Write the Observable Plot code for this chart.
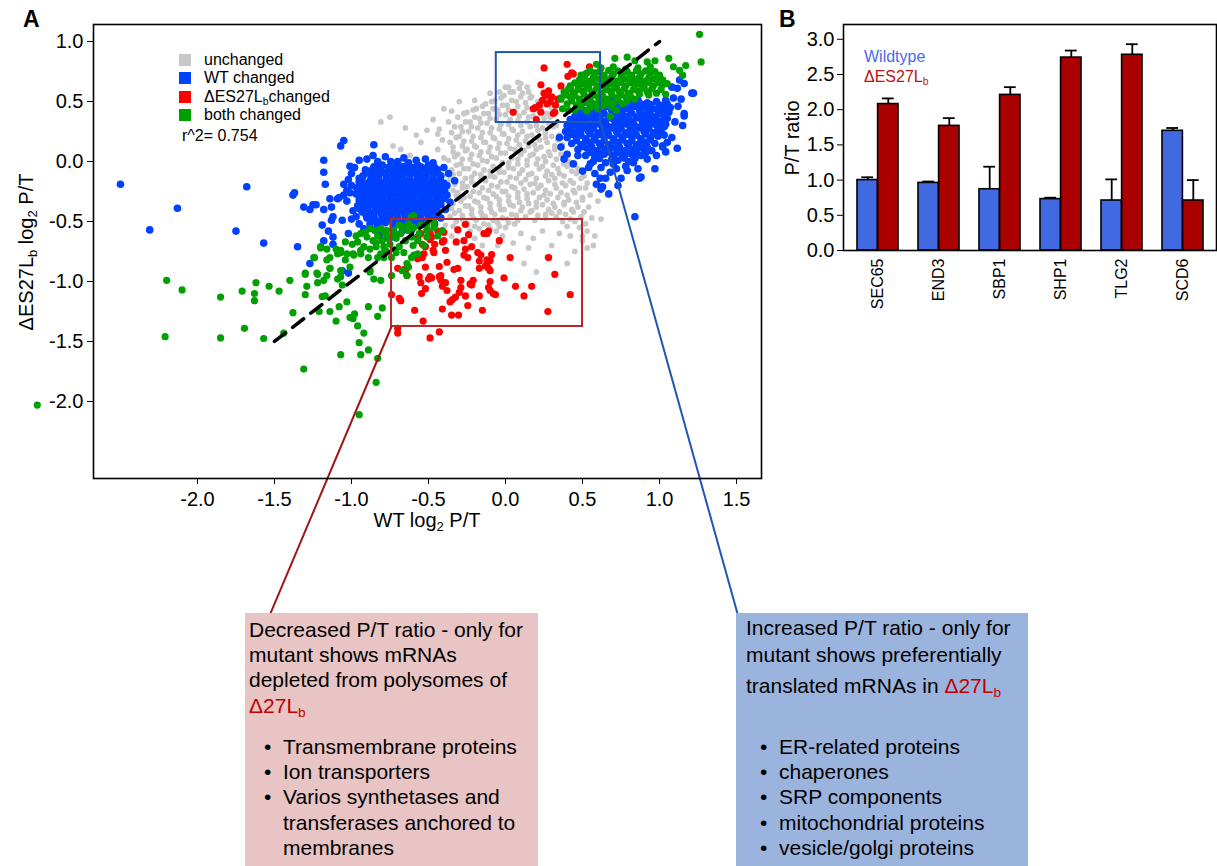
<!DOCTYPE html>
<html>
<head>
<meta charset="utf-8">
<script src="https://cdn.jsdelivr.net/npm/d3@7"></script>
<script src="https://cdn.jsdelivr.net/npm/@observablehq/plot@0.6"></script>
<style>
  html, body { margin: 0; padding: 0; background: #fff; }
  body { width: 1217px; height: 866px; position: relative; overflow: hidden;
         font-family: "Liberation Sans", Arial, sans-serif; color: #000; }
  .abs { position: absolute; white-space: nowrap; }
  .sub { font-size: 0.65em; position: relative; top: 0.3em; }
  .box { position: absolute; top: 613px; height: 253px; font-size: 21px; line-height: 25.5px; }
  .box .ln { position: absolute; white-space: nowrap; }
  .mut { color: #c00000; }
</style>
</head>
<body>
<div id="A" class="abs" style="left:0;top:0;width:770px;"></div>
<div id="B" class="abs" style="left:770px;top:0;width:447px;"></div>
<script>
// ---------------- Panel A data (WT log2 P/T, ΔES27Lb log2 P/T) ----------------
const grayPts = [
 [-0.81,0.33],[-0.73,0.13],[-0.55,0.16],[-0.51,0.26],[-0.44,0.23],[-0.75,0.37],[-0.40,0.44],[-0.62,0.05],[-0.58,0.22],[-0.47,0.35],
 [-0.35,0.42],[-0.30,0.50],[-0.20,0.51],[-0.10,0.57],[0.00,0.62],[0.08,0.66],[0.14,0.62],[-0.65,0.28],[-0.68,0.10],
 [-0.43,0.27],[-0.41,0.18],[-0.44,0.10],[-0.40,0.03],[-0.42,-0.47],[-0.39,-0.53],
 [-0.37,0.33],[-0.35,0.24],[-0.36,0.16],[-0.34,0.08],[-0.37,0.01],[-0.35,-0.07],[-0.36,-0.15],[-0.34,-0.24],[-0.37,-0.31],[-0.35,-0.39],[-0.36,-0.46],[-0.34,-0.54],
 [-0.31,0.37],[-0.29,0.29],[-0.30,0.21],[-0.28,0.13],[-0.31,0.06],[-0.29,-0.02],[-0.30,-0.10],[-0.28,-0.18],[-0.31,-0.26],[-0.29,-0.33],[-0.30,-0.41],[-0.28,-0.48],[-0.31,-0.56],
 [-0.25,0.41],[-0.23,0.33],[-0.24,0.25],[-0.22,0.17],[-0.25,0.10],[-0.23,0.02],[-0.24,-0.06],[-0.22,-0.13],[-0.25,-0.21],[-0.23,-0.29],[-0.24,-0.37],[-0.22,-0.44],[-0.25,-0.51],[-0.23,-0.58],
 [-0.19,0.44],[-0.17,0.36],[-0.18,0.28],[-0.16,0.20],[-0.19,0.12],[-0.17,0.05],[-0.18,-0.03],[-0.16,-0.11],[-0.19,-0.19],[-0.17,-0.26],[-0.18,-0.34],[-0.16,-0.42],[-0.19,-0.49],[-0.17,-0.56],
 [-0.13,0.48],[-0.11,0.40],[-0.12,0.32],[-0.10,0.24],[-0.13,0.16],[-0.11,0.08],[-0.12,0.00],[-0.10,-0.08],[-0.13,-0.16],[-0.11,-0.24],[-0.12,-0.31],[-0.10,-0.39],[-0.13,-0.46],[-0.11,-0.53],
 [-0.07,0.51],[-0.05,0.43],[-0.06,0.35],[-0.04,0.27],[-0.07,0.19],[-0.05,0.11],[-0.06,0.03],[-0.04,-0.05],[-0.07,-0.13],[-0.05,-0.21],[-0.06,-0.29],[-0.04,-0.36],[-0.07,-0.44],[-0.05,-0.51],[-0.06,-0.58],
 [-0.01,0.55],[0.01,0.47],[0.00,0.39],[0.02,0.31],[-0.01,0.23],[0.01,0.15],[0.00,0.07],[0.02,-0.01],[-0.01,-0.09],[0.01,-0.17],[0.00,-0.25],[0.02,-0.33],[-0.01,-0.40],[0.01,-0.48],[0.00,-0.55],
 [0.05,0.58],[0.07,0.50],[0.06,0.42],[0.08,0.34],[0.05,0.26],[0.07,0.18],[0.06,0.10],[0.08,0.02],[0.05,-0.06],[0.07,-0.14],[0.06,-0.22],[0.08,-0.30],[0.05,-0.37],[0.07,-0.45],[0.06,-0.52],
 [0.11,0.57],[0.13,0.49],[0.12,0.41],[0.14,0.33],[0.11,0.25],[0.13,0.17],[0.12,0.09],[0.14,0.01],[0.11,-0.07],[0.13,-0.15],[0.12,-0.23],[0.14,-0.31],[0.11,-0.38],[0.13,-0.46],
 [0.17,0.54],[0.19,0.46],[0.18,0.38],[0.20,0.30],[0.17,0.22],[0.19,0.14],[0.18,0.06],[0.20,-0.02],[0.17,-0.10],[0.19,-0.18],[0.18,-0.26],[0.20,-0.34],[0.17,-0.41],[0.19,-0.49],
 [0.23,0.44],[0.25,0.36],[0.24,0.28],[0.26,0.20],[0.23,0.12],[0.25,0.04],[0.24,-0.04],[0.26,-0.12],[0.23,-0.20],[0.25,-0.28],[0.24,-0.36],[0.26,-0.44],
 [0.29,0.37],[0.31,0.29],[0.30,0.21],[0.32,0.13],[0.29,0.05],[0.31,-0.03],[0.30,-0.11],[0.32,-0.19],[0.29,-0.27],[0.31,-0.35],[0.30,-0.43],
 [0.35,0.22],[0.37,0.14],[0.36,0.06],[0.38,-0.02],[0.35,-0.10],[0.37,-0.18],[0.36,-0.26],[0.38,-0.34],[0.35,-0.42],[0.37,-0.50],
 [0.41,0.00],[0.43,-0.08],[0.42,-0.16],[0.44,-0.24],[0.41,-0.32],[0.43,-0.40],[0.42,-0.48],
 [0.47,-0.06],[0.49,-0.14],[0.48,-0.22],[0.50,-0.30],[0.47,-0.38],[0.49,-0.46],[0.48,-0.55],
 [0.53,-0.18],[0.55,-0.28],[0.54,-0.38],[0.56,-0.47],[0.53,-0.58],[0.57,-0.70],
 [0.60,-0.33],[0.62,-0.48],[0.58,-0.62],[0.50,-0.66],[0.42,-0.62],[0.35,-0.60],[0.27,-0.80],[0.20,-0.92],[0.30,-0.70],[0.15,-0.72],
 [0.05,-0.68],[-0.05,-0.70],[0.10,-0.60],[0.45,-0.75],[0.62,-0.22],[0.58,-0.10],[0.24,-0.58],[0.18,-0.64],[-0.02,-0.62],[-0.20,-0.64],
 [-0.35,-0.62],[-0.62,-0.58],[-0.55,-0.63],[-0.48,-0.58],[0.53,-0.72],[0.40,-0.85],[0.12,-0.85],[-0.15,-0.70],
 [0.24,0.52],[0.30,0.45],[0.02,0.62],[0.10,0.65],[-0.04,0.58],
 [-0.33,0.29],[-0.32,0.20],[-0.34,0.12],[-0.33,0.04],[-0.32,-0.03],[-0.34,-0.11],[-0.33,-0.19],[-0.32,-0.28],[-0.34,-0.35],[-0.33,-0.43],[-0.32,-0.50],
 [-0.27,0.40],[-0.26,0.33],[-0.28,0.25],[-0.27,0.17],[-0.26,0.09],[-0.28,0.02],[-0.27,-0.06],[-0.26,-0.14],[-0.28,-0.22],[-0.27,-0.30],[-0.26,-0.37],[-0.28,-0.45],[-0.27,-0.52],
 [-0.21,0.43],[-0.20,0.37],[-0.22,0.29],[-0.21,0.21],[-0.20,0.13],[-0.22,0.06],[-0.21,-0.02],[-0.20,-0.10],[-0.22,-0.17],[-0.21,-0.25],[-0.20,-0.33],[-0.22,-0.40],[-0.21,-0.47],[-0.20,-0.54],
 [-0.15,0.46],[-0.14,0.40],[-0.16,0.32],[-0.15,0.24],[-0.14,0.16],[-0.16,0.08],[-0.15,0.01],[-0.14,-0.07],[-0.16,-0.15],[-0.15,-0.22],[-0.14,-0.30],[-0.16,-0.38],[-0.15,-0.45],[-0.14,-0.52],
 [-0.09,0.50],[-0.08,0.44],[-0.10,0.36],[-0.09,0.28],[-0.08,0.20],[-0.10,0.12],[-0.09,0.04],[-0.08,-0.04],[-0.10,-0.12],[-0.09,-0.20],[-0.08,-0.27],[-0.10,-0.35],[-0.09,-0.42],[-0.08,-0.49],[-0.10,-0.56],
 [-0.03,0.53],[-0.02,0.47],[-0.04,0.39],[-0.03,0.31],[-0.02,0.23],[-0.04,0.15],[-0.03,0.07],[-0.02,-0.01],[-0.04,-0.09],[-0.03,-0.17],[-0.02,-0.25],[-0.04,-0.32],[-0.03,-0.40],[-0.02,-0.47],[-0.04,-0.54],
 [0.03,0.58],[0.04,0.51],[0.02,0.43],[0.03,0.35],[0.04,0.27],[0.02,0.19],[0.03,0.11],[0.04,0.03],[0.02,-0.05],[0.03,-0.13],[0.04,-0.21],[0.02,-0.29],[0.03,-0.36],[0.04,-0.44],[0.02,-0.51],
 [0.09,0.61],[0.10,0.54],[0.08,0.46],[0.09,0.38],[0.10,0.30],[0.08,0.22],[0.09,0.14],[0.10,0.06],[0.08,-0.02],[0.09,-0.10],[0.10,-0.18],[0.08,-0.26],[0.09,-0.34],[0.10,-0.41],[0.08,-0.49],
 [0.15,0.58],[0.16,0.53],[0.14,0.45],[0.15,0.37],[0.16,0.29],[0.14,0.21],[0.15,0.13],[0.16,0.05],[0.14,-0.03],[0.15,-0.11],[0.16,-0.19],[0.14,-0.27],[0.15,-0.35],[0.16,-0.42],
 [0.21,0.50],[0.22,0.42],[0.20,0.34],[0.21,0.26],[0.22,0.18],[0.20,0.10],[0.21,0.02],[0.22,-0.06],[0.20,-0.14],[0.21,-0.22],[0.22,-0.30],[0.20,-0.38],[0.21,-0.45],
 [0.27,0.40],[0.28,0.32],[0.26,0.24],[0.27,0.16],[0.28,0.08],[0.26,0.00],[0.27,-0.08],[0.28,-0.16],[0.26,-0.24],[0.27,-0.32],[0.28,-0.40],[0.26,-0.47],
 [0.33,0.30],[0.34,0.18],[0.32,0.10],[0.33,0.02],[0.34,-0.06],[0.32,-0.14],[0.33,-0.22],[0.34,-0.30],[0.32,-0.38],[0.33,-0.46],
 [0.39,0.04],[0.40,-0.04],[0.38,-0.12],[0.39,-0.20],[0.40,-0.28],[0.38,-0.36],[0.39,-0.44],[0.40,-0.54],
 [0.45,-0.02],[0.46,-0.10],[0.44,-0.18],[0.45,-0.26],[0.46,-0.34],[0.44,-0.42],[0.45,-0.50],
 [0.51,-0.12],[0.52,-0.22],[0.50,-0.32],[0.51,-0.42],[0.52,-0.52],[0.50,-0.62]
];
const bluePts = [
 [-2.50,-0.19],[-2.13,-0.39],[-2.31,-0.57],[-1.68,-0.21],[-1.75,-0.58],[-1.57,-0.68],[-1.38,-0.28],[-1.37,-0.26],[-1.31,-0.38],[-1.27,-0.40],
 [-1.23,-0.36],[-1.18,0.01],[-1.18,-0.09],[-1.17,-0.19],[-1.14,-0.31],[-1.18,-0.40],[-1.07,0.13],[-1.05,0.175],[-0.95,0.01],[-1.01,-0.04],
 [-0.855,0.14],[-1.08,-0.30],[-1.03,-0.24],[-1.12,-0.46],[-1.19,-0.53],[-1.15,-0.58],[-1.12,-0.63],[-1.02,-0.60],[-1.35,-0.71],[-1.18,-0.66],
 [-1.27,-0.85],[-1.12,-0.69],[-1.02,-0.93],[-1.06,-0.91],[-0.83,0.00],[-0.70,0.00],[-0.63,-0.02],[-0.91,-0.07],[-0.95,-0.14],[-1.05,-0.19],
 [-1.25,-0.36],[-1.13,-0.38],[-1.09,-0.31],[-1.05,-0.28],[-1.01,-0.26],[-0.33,-0.16],[-1.13,-0.49],[-1.06,-0.49],[-1.00,-0.48],
 [-0.90,0.02],[-0.86,0.05],[-0.78,0.04],[-0.66,0.03],[-0.58,0.01],[-0.52,0.02],[-0.47,-0.01],[-0.98,-0.05],[-1.00,-0.10],
 [-1.02,-0.15],[-1.00,-0.20],[-1.03,-0.33],[-0.99,-0.41],[-0.97,-0.46],[-0.95,-0.52],[-0.92,-0.56],
 [-0.40,-0.05],[-0.37,-0.10],[-0.38,-0.20],[-0.36,-0.34],[-0.39,-0.40],[-0.42,-0.47],[-0.46,-0.52],
 [-0.80,-0.03],[-0.745,0.0],[-0.69,-0.04],[-0.63,-0.01],[-0.57,-0.03],[-0.51,-0.05],
 [-0.88,-0.08],[-0.83,-0.06],[-0.78,-0.09],[-0.735,-0.06],[-0.68,-0.08],[-0.63,-0.07],[-0.585,-0.09],[-0.53,-0.06],[-0.48,-0.08],[-0.44,-0.07],
 [-0.925,-0.12],[-0.87,-0.13],[-0.82,-0.11],[-0.77,-0.13],[-0.72,-0.12],[-0.67,-0.14],[-0.62,-0.11],[-0.57,-0.13],[-0.52,-0.12],[-0.47,-0.14],[-0.42,-0.12],
 [-0.95,-0.17],[-0.90,-0.18],[-0.85,-0.16],[-0.80,-0.18],[-0.75,-0.17],[-0.70,-0.16],[-0.65,-0.18],[-0.60,-0.17],[-0.55,-0.16],[-0.50,-0.18],[-0.45,-0.17],[-0.40,-0.18],
 [-0.965,-0.22],[-0.91,-0.23],[-0.86,-0.21],[-0.81,-0.23],[-0.76,-0.22],[-0.71,-0.21],[-0.66,-0.23],[-0.61,-0.22],[-0.56,-0.21],[-0.51,-0.23],[-0.46,-0.22],[-0.41,-0.23],
 [-0.97,-0.27],[-0.92,-0.28],[-0.87,-0.26],[-0.82,-0.28],[-0.77,-0.27],[-0.72,-0.26],[-0.67,-0.28],[-0.62,-0.27],[-0.57,-0.26],[-0.52,-0.28],[-0.47,-0.27],[-0.42,-0.26],[-0.38,-0.28],
 [-0.95,-0.32],[-0.90,-0.33],[-0.85,-0.31],[-0.80,-0.33],[-0.75,-0.32],[-0.70,-0.31],[-0.65,-0.33],[-0.60,-0.32],[-0.55,-0.31],[-0.50,-0.33],[-0.45,-0.32],[-0.40,-0.31],
 [-0.96,-0.37],[-0.91,-0.38],[-0.86,-0.36],[-0.81,-0.38],[-0.76,-0.37],[-0.71,-0.36],[-0.66,-0.38],[-0.61,-0.37],[-0.56,-0.36],[-0.51,-0.38],[-0.46,-0.37],[-0.42,-0.36],
 [-0.93,-0.42],[-0.88,-0.43],[-0.83,-0.41],[-0.78,-0.43],[-0.73,-0.42],[-0.68,-0.41],[-0.63,-0.43],[-0.58,-0.42],[-0.53,-0.41],[-0.48,-0.43],[-0.44,-0.42],
 [-0.90,-0.47],[-0.85,-0.48],[-0.80,-0.46],[-0.75,-0.48],[-0.70,-0.47],[-0.65,-0.46],[-0.60,-0.48],[-0.55,-0.47],[-0.50,-0.46],
 [-0.88,-0.52],[-0.83,-0.53],[-0.78,-0.51],[-0.73,-0.53],[-0.68,-0.52],[-0.63,-0.51],[-0.58,-0.53],[-0.53,-0.52],
 [-0.85,-0.57],[-0.79,-0.58],[-0.73,-0.56],[-0.67,-0.58],[-0.61,-0.57],[-0.82,-0.62],[-0.74,-0.63],
 [-0.855,-0.045],[-0.81,-0.04],[-0.76,-0.05],[-0.71,-0.045],[-0.655,-0.04],[-0.60,-0.05],[-0.55,-0.045],[-0.50,-0.03],[-0.46,-0.05],
 [-0.90,-0.095],[-0.85,-0.10],[-0.80,-0.09],[-0.75,-0.095],[-0.70,-0.10],[-0.65,-0.09],[-0.60,-0.095],[-0.55,-0.10],[-0.50,-0.09],[-0.45,-0.095],
 [-0.935,-0.145],[-0.875,-0.15],[-0.825,-0.14],[-0.775,-0.145],[-0.725,-0.15],[-0.675,-0.14],[-0.625,-0.145],[-0.575,-0.15],[-0.525,-0.14],[-0.475,-0.145],[-0.425,-0.15],
 [-0.93,-0.195],[-0.875,-0.20],[-0.825,-0.19],[-0.775,-0.195],[-0.725,-0.20],[-0.675,-0.19],[-0.625,-0.195],[-0.575,-0.20],[-0.525,-0.19],[-0.475,-0.195],[-0.425,-0.20],
 [-0.94,-0.245],[-0.885,-0.25],[-0.835,-0.24],[-0.785,-0.245],[-0.735,-0.25],[-0.685,-0.24],[-0.635,-0.245],[-0.585,-0.25],[-0.535,-0.24],[-0.485,-0.245],[-0.435,-0.25],[-0.395,-0.24],
 [-0.945,-0.295],[-0.895,-0.30],[-0.845,-0.29],[-0.795,-0.295],[-0.745,-0.30],[-0.695,-0.29],[-0.645,-0.295],[-0.595,-0.30],[-0.545,-0.29],[-0.495,-0.295],[-0.445,-0.30],[-0.40,-0.29],
 [-0.925,-0.345],[-0.875,-0.35],[-0.825,-0.34],[-0.775,-0.345],[-0.725,-0.35],[-0.675,-0.34],[-0.625,-0.345],[-0.575,-0.35],[-0.525,-0.34],[-0.475,-0.345],[-0.425,-0.35],
 [-0.945,-0.395],[-0.895,-0.40],[-0.845,-0.39],[-0.795,-0.395],[-0.745,-0.40],[-0.695,-0.39],[-0.645,-0.395],[-0.595,-0.40],[-0.545,-0.39],[-0.495,-0.395],[-0.45,-0.40],
 [-0.905,-0.445],[-0.855,-0.45],[-0.805,-0.44],[-0.755,-0.445],[-0.705,-0.45],[-0.655,-0.44],[-0.605,-0.445],[-0.555,-0.45],[-0.505,-0.44],[-0.46,-0.445],
 [-0.865,-0.495],[-0.815,-0.50],[-0.765,-0.49],[-0.715,-0.495],[-0.665,-0.50],[-0.615,-0.49],[-0.565,-0.495],[-0.515,-0.50],
 [1.22,0.57],[1.16,0.40],[1.15,0.30],[1.14,0.52],[1.115,0.11],[1.02,0.13],[0.97,-0.06],[0.88,-0.13],[0.75,-0.14],[0.65,-0.14],
 [0.63,-0.21],[0.54,-0.05],[0.47,0.05],[0.40,0.06],[0.35,0.20],[1.05,0.16],[1.06,0.43],[1.08,0.62],[1.115,0.61],[0.83,-0.01],
 [0.79,-0.075],[0.70,-0.02],[0.55,-0.02],[0.84,-0.46],[0.87,-0.14],[0.62,-0.23],[0.615,-0.14],[1.21,0.57],[1.16,0.38],[1.04,0.31],
 [1.03,0.22],[1.02,0.12],[1.16,0.65],[1.13,0.68],
 [0.36,0.12],[0.38,0.02],[0.44,-0.02],[0.50,-0.08],[0.58,-0.10],[0.68,-0.09],[0.78,-0.04],[0.86,-0.06],[0.92,0.02],[0.98,0.05],
 [1.04,0.08],[1.08,0.20],[1.10,0.33],[1.12,0.46],[1.09,0.53],[0.67,-0.27],[0.73,-0.20],[0.59,-0.19],
 [0.62,0.50],[0.68,0.51],[0.74,0.49],[0.80,0.50],[0.86,0.51],[0.92,0.49],[0.98,0.50],[1.04,0.51],
 [0.55,0.45],[0.605,0.44],[0.66,0.46],[0.72,0.45],[0.78,0.44],[0.84,0.46],[0.90,0.45],[0.96,0.44],[1.02,0.46],[1.07,0.45],
 [0.48,0.40],[0.53,0.41],[0.585,0.39],[0.64,0.40],[0.70,0.41],[0.76,0.39],[0.82,0.40],[0.88,0.41],[0.94,0.39],[1.00,0.40],[1.06,0.41],
 [0.42,0.35],[0.47,0.34],[0.52,0.36],[0.575,0.35],[0.63,0.34],[0.69,0.36],[0.75,0.35],[0.81,0.34],[0.87,0.36],[0.93,0.35],[0.99,0.34],[1.05,0.36],
 [0.40,0.30],[0.45,0.31],[0.50,0.29],[0.555,0.30],[0.61,0.31],[0.67,0.29],[0.73,0.30],[0.79,0.31],[0.85,0.29],[0.91,0.30],[0.97,0.31],[1.03,0.29],
 [0.39,0.25],[0.44,0.24],[0.49,0.26],[0.54,0.25],[0.60,0.24],[0.66,0.26],[0.72,0.25],[0.78,0.24],[0.84,0.26],[0.90,0.25],[0.96,0.24],[1.01,0.26],
 [0.40,0.20],[0.46,0.21],[0.52,0.19],[0.58,0.20],[0.64,0.21],[0.70,0.19],[0.76,0.20],[0.82,0.21],[0.88,0.19],[0.94,0.20],[0.99,0.21],
 [0.43,0.15],[0.49,0.14],[0.55,0.16],[0.61,0.15],[0.67,0.14],[0.73,0.16],[0.79,0.15],[0.85,0.14],[0.91,0.16],[0.97,0.15],
 [0.47,0.10],[0.53,0.11],[0.59,0.09],[0.65,0.10],[0.71,0.11],[0.77,0.09],[0.83,0.10],[0.89,0.11],[0.95,0.09],
 [0.52,0.05],[0.58,0.04],[0.64,0.06],[0.70,0.05],[0.76,0.04],[0.82,0.06],[0.88,0.05],
 [0.57,0.00],[0.65,-0.01],[0.73,0.01],[0.80,0.00],[0.62,-0.05],[0.72,-0.06],
 [0.585,0.475],[0.64,0.47],[0.70,0.48],[0.76,0.475],[0.82,0.47],[0.88,0.48],[0.94,0.475],[1.00,0.47],[1.05,0.48],
 [0.51,0.425],[0.57,0.42],[0.63,0.43],[0.69,0.425],[0.75,0.42],[0.81,0.43],[0.87,0.425],[0.93,0.42],[0.99,0.43],[1.04,0.425],
 [0.45,0.375],[0.50,0.37],[0.55,0.38],[0.61,0.375],[0.67,0.37],[0.73,0.38],[0.79,0.375],[0.85,0.37],[0.91,0.38],[0.97,0.375],[1.03,0.37],
 [0.43,0.325],[0.48,0.32],[0.53,0.33],[0.59,0.325],[0.65,0.32],[0.71,0.33],[0.77,0.325],[0.83,0.32],[0.89,0.33],[0.95,0.325],[1.01,0.32],
 [0.42,0.275],[0.47,0.27],[0.52,0.28],[0.57,0.275],[0.63,0.27],[0.69,0.28],[0.75,0.275],[0.81,0.27],[0.87,0.28],[0.93,0.275],[0.99,0.27],
 [0.43,0.225],[0.49,0.22],[0.55,0.23],[0.61,0.225],[0.67,0.22],[0.73,0.23],[0.79,0.225],[0.85,0.22],[0.91,0.23],[0.97,0.225],
 [0.46,0.175],[0.52,0.17],[0.58,0.18],[0.64,0.175],[0.70,0.17],[0.76,0.18],[0.82,0.175],[0.88,0.17],[0.94,0.18],
 [0.50,0.125],[0.56,0.12],[0.62,0.13],[0.68,0.125],[0.74,0.12],[0.80,0.13],[0.86,0.125],[0.92,0.12],
 [0.55,0.075],[0.61,0.07],[0.67,0.08],[0.73,0.075],[0.79,0.07],[0.85,0.08],[0.91,0.075],
 [0.61,0.025],[0.69,0.02],[0.77,0.03],[0.84,0.025]
];
const redPts = [
 [0.25,0.78],[0.40,0.81],[0.545,0.79],[0.43,0.74],[0.405,0.71],[0.23,0.64],[0.36,0.63],[0.28,0.59],[0.26,0.55],[0.30,0.54],
 [0.34,0.52],[0.24,0.51],[0.27,0.48],[0.22,0.47],[0.18,0.44],[0.325,0.47],[0.23,0.41],[0.32,0.41],[0.05,0.41],[0.20,0.35],
 [0.39,0.56],[0.42,0.61],[0.44,0.73],[0.195,0.45],[0.31,0.40],[0.29,0.50],[0.25,0.57],
 [-0.26,-0.525],[-0.31,-0.57],[-0.24,-0.61],[-0.14,-0.60],[-0.11,-0.58],[-0.04,-0.66],[-0.41,-0.67],[-0.32,-0.67],[-0.27,-0.66],[-0.22,-0.71],
 [-0.26,-0.73],[-0.18,-0.76],[-0.27,-0.78],[-0.245,-0.80],[-0.16,-0.78],[-0.09,-0.775],[0.03,-0.80],[0.28,-0.80],[-0.46,-0.69],[-0.465,-0.76],
 [-0.53,-0.77],[-0.54,-0.69],[-0.57,-0.63],[-0.44,-0.58],[-0.49,-0.60],[-0.51,-0.57],[-0.55,-0.60],[-0.12,-0.85],[-0.17,-0.83],[-0.12,-0.82],
 [-0.10,-0.91],[-0.11,-0.89],[-0.17,-0.89],[-0.38,-0.84],[-0.31,-0.89],[-0.335,-0.90],[-0.52,-0.88],[-0.56,-0.96],[-0.55,-1.01],[-0.52,-1.06],
 [-0.545,-1.10],[-0.50,-0.98],[-0.48,-0.97],[-0.43,-0.96],[-0.42,-0.99],[-0.39,-1.01],[-0.38,-1.075],[-0.41,-1.04],[-0.29,-0.99],[-0.29,-1.05],
 [-0.30,-1.09],[-0.325,-1.13],[-0.36,-1.17],[-0.345,-1.15],[-0.26,-1.12],[-0.22,-1.03],[-0.21,-0.99],[-0.23,-1.02],[-0.17,-1.12],[-0.11,-1.05],
 [-0.10,-1.00],[-0.08,-1.10],[-0.065,-1.11],[-0.10,-1.075],[-0.01,-0.97],[0.065,-1.04],[0.17,-1.04],[0.12,-1.12],[0.32,-0.94],[0.42,-1.11],
 [0.275,-1.25],[-0.59,-1.24],[-0.41,-1.23],[-0.245,-1.20],[-0.35,-1.28],[-0.305,-1.28],[-0.15,-1.24],[-0.535,-1.33],[-0.70,-1.39],[-0.70,-1.43],
 [-0.43,-1.42],[-0.49,-1.47],[-0.69,-1.14],[-0.68,-1.16],[-0.70,-0.89],[-0.66,-0.90],[-0.74,-1.11],[-0.47,-0.74],[-0.40,-0.59],[-0.12,-0.60],
 [-0.49,-0.65],[-0.52,-0.71],[-0.13,-0.87],[-0.10,-0.825],[-0.49,-0.96],[-0.42,-0.95],[-0.48,-0.63],[-0.54,-0.80],[-0.57,-0.81],
 [-0.65,-0.91],[-0.64,-0.95],[-0.40,-0.66],[-0.39,-0.74],[-0.43,-0.875]
];
const greenPts = [
 [1.26,1.06],[1.27,0.83],[0.79,0.87],[0.71,0.86],[1.06,0.86],[1.17,0.80],[1.13,0.76],[1.09,0.79],[1.15,0.72],[0.92,0.83],
 [0.97,0.84],[0.59,0.81],[0.53,0.74],[0.49,0.72],[0.68,0.375],[0.72,0.425],[1.04,0.56],[1.00,0.70],[1.05,0.65],[0.41,0.425],
 [0.37,0.44],[0.36,0.52],[0.465,0.65],[0.44,0.56],[0.84,0.84],
 [0.62,0.78],[0.70,0.79],[0.78,0.77],[0.86,0.78],[0.94,0.79],
 [0.52,0.73],[0.58,0.74],[0.64,0.72],[0.70,0.73],[0.76,0.74],[0.82,0.72],[0.88,0.73],[0.94,0.74],[1.00,0.72],
 [0.48,0.68],[0.54,0.67],[0.60,0.69],[0.66,0.68],[0.72,0.67],[0.78,0.69],[0.84,0.68],[0.90,0.67],[0.96,0.69],[1.02,0.68],
 [0.42,0.63],[0.48,0.64],[0.54,0.62],[0.60,0.63],[0.66,0.64],[0.72,0.62],[0.78,0.63],[0.84,0.64],[0.90,0.62],[0.96,0.63],[1.02,0.64],
 [0.38,0.58],[0.44,0.57],[0.50,0.59],[0.56,0.58],[0.62,0.57],[0.68,0.59],[0.74,0.58],[0.80,0.57],[0.86,0.59],[0.92,0.58],[0.98,0.57],
 [0.36,0.53],[0.42,0.54],[0.48,0.52],[0.54,0.53],[0.60,0.54],[0.66,0.52],[0.72,0.53],[0.78,0.54],[0.84,0.52],
 [0.40,0.48],[0.46,0.47],[0.52,0.49],[0.58,0.48],[0.64,0.47],[0.70,0.49],[0.76,0.48],[0.45,0.43],[0.53,0.42],[0.60,0.44],
 [0.55,0.755],[0.61,0.75],[0.67,0.76],[0.73,0.755],[0.79,0.75],[0.85,0.76],[0.91,0.755],[0.97,0.75],
 [0.51,0.705],[0.57,0.70],[0.63,0.71],[0.69,0.705],[0.75,0.70],[0.81,0.71],[0.87,0.705],[0.93,0.70],[0.99,0.71],
 [0.45,0.655],[0.51,0.65],[0.57,0.66],[0.63,0.655],[0.69,0.65],[0.75,0.66],[0.81,0.655],[0.87,0.65],[0.93,0.66],[0.99,0.655],
 [0.41,0.605],[0.47,0.60],[0.53,0.61],[0.59,0.605],[0.65,0.60],[0.71,0.61],[0.77,0.605],[0.83,0.60],[0.89,0.61],[0.95,0.605],[1.01,0.60],
 [0.39,0.555],[0.45,0.55],[0.51,0.56],[0.57,0.555],[0.63,0.55],[0.69,0.56],[0.75,0.555],[0.81,0.55],[0.87,0.56],[0.93,0.555],
 [0.43,0.505],[0.49,0.50],[0.55,0.51],[0.61,0.505],[0.67,0.50],[0.73,0.51],[0.79,0.505],
 [0.49,0.455],[0.55,0.45],[0.62,0.46],[0.69,0.455],
 [-2.20,-0.99],[-2.10,-1.07],[-2.21,-1.46],[-1.85,-1.13],[-1.85,-1.47],[-1.71,-1.08],[-1.695,-1.39],[-1.63,-1.10],[-1.63,-1.16],[-1.62,-1.01],
 [-1.57,-1.475],[-1.535,-1.04],[-1.47,-1.08],[-1.44,-1.43],[-1.40,-0.99],[-1.38,-1.26],[-1.31,-1.73],[-1.30,-1.11],[-1.30,-0.93],[-1.29,-1.04],
 [-1.24,-0.80],[-1.225,-0.93],[-1.22,-1.01],[-1.21,-1.25],[-1.20,-0.72],[-1.19,-1.125],[-1.18,-0.99],[-1.17,-1.12],[-1.16,-0.95],[-1.16,-0.82],
 [-1.16,-0.73],[-1.14,-1.25],[-1.14,-0.89],[-1.10,-1.33],[-1.09,-0.98],[-1.08,-1.21],[-1.07,-1.61],[-1.07,-0.91],[-1.06,-1.03],[-1.09,-0.77],
 [-1.07,-0.74],[-1.04,-0.82],[-1.03,-1.17],[-1.01,-1.30],[-0.99,-1.31],[-0.99,-0.77],[-0.98,-1.27],[-0.96,-1.37],[-0.95,-1.51],[-0.94,-0.74],
 [-0.94,-1.61],[-0.92,-1.43],[-0.95,-2.11],[-0.89,-1.57],[-0.89,-1.21],[-0.88,-0.91],[-0.855,-0.98],[-0.84,-1.84],[-0.83,-1.29],[-0.83,-1.64],
 [-0.81,-0.99],[-0.80,-1.22],[-0.83,-0.80],[-0.84,-0.71],[-0.79,-0.80],[-3.04,-2.03],
 [-0.94,-0.60],[-0.91,-0.59],[-0.88,-0.56],[-0.845,-0.575],[-0.81,-0.56],[-0.83,-0.62],[-0.78,-0.60],[-0.77,-0.64],[-0.80,-0.66],[-0.725,-0.575],
 [-0.69,-0.53],[-0.66,-0.55],[-0.61,-0.46],[-0.63,-0.52],[-0.595,-0.55],[-0.68,-0.60],[-0.71,-0.64],[-0.75,-0.69],[-0.79,-0.71],[-0.88,-0.73],
 [-0.92,-0.71],[-0.96,-0.67],[-0.995,-0.69],[-1.04,-0.67],[-1.07,-0.76],[-1.03,-0.77],[-0.985,-0.78],[-0.94,-0.77],[-0.89,-0.80],[-0.81,-0.77],
 [-1.20,-0.71],[-1.245,-0.80],[-1.14,-0.80],[-1.10,-0.73],[-1.30,-0.94],[-1.22,-0.94],[-1.14,-0.89],[-0.88,-0.92],[-1.01,-0.88],[-1.07,-0.96],
 [-0.51,-0.575],[-0.465,-0.55],[-0.41,-0.575],[-0.44,-0.62],[-0.55,-0.53],[-0.56,-0.60],[-0.61,-0.63],[-0.61,-0.80],[-0.63,-0.88],[-0.64,-0.85],
 [-0.57,-0.77],[-0.51,-0.63],[-0.69,-0.71],[-0.71,-0.76],[-0.595,-0.45],[-0.465,-0.51],[-0.51,-0.52],[-0.63,-0.575],[-0.595,-0.78],[-0.64,-0.95],
 [-0.67,-0.91],[-0.74,-0.95],[-0.78,-0.74],[-0.77,-0.575],[-0.57,-0.66],
 [-0.90,-0.63],[-0.86,-0.66],[-0.75,-0.63],[-0.72,-0.60],[-0.65,-0.66],[-0.60,-0.70],[-0.66,-0.76],[-0.74,-0.80],[-0.84,-0.68],[-0.97,-0.62],[-0.53,-0.70]
];
const identityLine = [[-1.5,-1.5],[1.0,1.0]];
const blueBox = [{x1:-0.06, x2:0.617, y1:0.325, y2:0.908}];
const redBox  = [{x1:-0.74, x2:0.50, y1:-1.375, y2:-0.483}];
const redLink  = [{x1:-0.74, y1:-1.375, x2:-1.526, y2:-3.767}];
const blueLink = [{x1:0.617, y1:0.325, x2:1.506, y2:-3.767}];
const xTicksA = [-2.0,-1.5,-1.0,-0.5,0.0,0.5,1.0,1.5];
const yTicksA = [-2.0,-1.5,-1.0,-0.5,0.0,0.5,1.0];

// ---------------- Panel B data (P/T ratio) ----------------
const genes   = ["SEC65","END3","SBP1","SHP1","TLG2","SCD6"];
const wtMean  = [1.00, 0.96, 0.87, 0.73, 0.71, 1.70];
const wtErr   = [0.04, 0.02, 0.32, 0.02, 0.30, 0.04];
const mutMean = [2.08, 1.77, 2.21, 2.74, 2.78, 0.71];
const mutErr  = [0.08, 0.11, 0.11, 0.10, 0.15, 0.29];
const yTicksB = [0.0,0.5,1.0,1.5,2.0,2.5,3.0];

const FONT = "'Liberation Sans', Arial, sans-serif";
const fmt1 = d => d.toFixed(1);
const px = d => d[0], py = d => d[1];

const plotA = Plot.plot({
  width: 770, height: 620,
  marginLeft: 93, marginRight: 9, marginTop: 24, marginBottom: 142,
  x: {domain: [-2.675, 1.662]},
  y: {domain: [-2.642, 1.142]},
  style: {fontFamily: FONT, fontSize: "20px", background: "transparent", overflow: "visible", color: "#000"},
  marks: [
    Plot.dot(grayPts, {x: px, y: py, r: 2.9, fill: "#c8c8c8", stroke: "none"}),
    Plot.dot(bluePts, {x: px, y: py, r: 3.8, fill: "#0040ff", stroke: "none"}),
    Plot.dot(redPts, {x: px, y: py, r: 3.6, fill: "#ff0000", stroke: "none"}),
    Plot.dot(greenPts, {x: px, y: py, r: 3.6, fill: "#00a000", stroke: "none"}),
    Plot.line(identityLine, {x: px, y: py, stroke: "#000", strokeWidth: 3.5, strokeDasharray: "14,9"}),
    Plot.rect(blueBox, {x1: "x1", x2: "x2", y1: "y1", y2: "y2", fill: "none", stroke: "#1f55b4", strokeWidth: 2}),
    Plot.rect(redBox, {x1: "x1", x2: "x2", y1: "y1", y2: "y2", fill: "none", stroke: "#b52a2a", strokeWidth: 2}),
    Plot.link(redLink, {x1: "x1", y1: "y1", x2: "x2", y2: "y2", stroke: "#a01515", strokeWidth: 2}),
    Plot.link(blueLink, {x1: "x1", y1: "y1", x2: "x2", y2: "y2", stroke: "#1f55b4", strokeWidth: 2}),
    Plot.frame({stroke: "#000", strokeWidth: 1.6}),
    Plot.axisX({ticks: xTicksA, tickFormat: fmt1, tickSize: 6, tickPadding: 7, label: null, fontSize: 20}),
    Plot.axisY({ticks: yTicksA, tickFormat: fmt1, tickSize: 6, tickPadding: 4, label: null, fontSize: 20})
  ]
});
document.getElementById("A").append(plotA);

const rows = genes.map((g, i) => ({gene: g, wt: wtMean[i], wtTop: wtMean[i] + wtErr[i], mut: mutMean[i], mutTop: mutMean[i] + mutErr[i]}));
const plotB = Plot.plot({
  width: 447, height: 320,
  marginLeft: 73, marginRight: 1, marginTop: 24, marginBottom: 70,
  x: {domain: genes, paddingInner: 0.33, paddingOuter: 0.2},
  y: {domain: [0, 3.21]},
  style: {fontFamily: FONT, fontSize: "20px", background: "transparent", overflow: "visible", color: "#000"},
  marks: [
    Plot.ruleX(rows, {x: "gene", y1: "wt", y2: "wtTop", dx: -10.3, stroke: "#000", strokeWidth: 1.8}),
    Plot.ruleX(rows, {x: "gene", y1: "mut", y2: "mutTop", dx: 10.3, stroke: "#000", strokeWidth: 1.8}),
    Plot.tickY(rows, {x: "gene", y: "wtTop", insetLeft: 4.3, insetRight: 24.9, stroke: "#000", strokeWidth: 1.8}),
    Plot.tickY(rows, {x: "gene", y: "mutTop", insetLeft: 24.9, insetRight: 4.3, stroke: "#000", strokeWidth: 1.8}),
    Plot.barY(rows, {x: "gene", y: "wt", fill: "#4169e1", stroke: "#000", strokeWidth: 1.6, insetRight: 20.6}),
    Plot.barY(rows, {x: "gene", y: "mut", fill: "#aa0000", stroke: "#000", strokeWidth: 1.6, insetLeft: 20.6}),
    Plot.frame({stroke: "#000", strokeWidth: 1.6}),
    Plot.axisY({ticks: yTicksB, tickFormat: fmt1, tickSize: 6, tickPadding: 3, label: null, fontSize: 20}),
    Plot.axisX({tickRotate: -90, tickSize: 0, tickPadding: 8, label: null, fontSize: 16})
  ]
});
document.getElementById("B").append(plotB);
</script>

<!-- Panel letters -->
<div class="abs" style="left:23px;top:6px;font-size:23px;font-weight:bold;">A</div>
<div class="abs" style="left:779px;top:6px;font-size:23px;font-weight:bold;">B</div>

<!-- Panel A legend -->
<div class="abs" style="left:179px;top:54px;width:12px;height:12px;background:#c8c8c8;"></div>
<div class="abs" style="left:179px;top:72px;width:12px;height:12px;background:#0040ff;"></div>
<div class="abs" style="left:179px;top:91px;width:12px;height:12px;background:#ff0000;"></div>
<div class="abs" style="left:179px;top:109px;width:12px;height:12px;background:#00a000;"></div>
<div class="abs" style="left:204px;top:50px;font-size:16px;line-height:20px;">unchanged</div>
<div class="abs" style="left:204px;top:68px;font-size:16px;line-height:20px;">WT changed</div>
<div class="abs" style="left:204px;top:87px;font-size:16px;line-height:20px;">ΔES27L<span class="sub">b</span>changed</div>
<div class="abs" style="left:204px;top:105px;font-size:16px;line-height:20px;">both changed</div>
<div class="abs" style="left:182px;top:126px;font-size:16px;line-height:20px;">r^2= 0.754</div>

<!-- Panel A axis titles -->
<div class="abs" style="left:427px;top:520px;transform:translate(-50%,-50%);font-size:20px;">WT log<span class="sub">2</span> P/T</div>
<div class="abs" style="left:26px;top:252px;transform:translate(-50%,-50%) rotate(-90deg);font-size:20px;">ΔES27L<span class="sub">b</span> log<span class="sub">2</span> P/T</div>

<!-- Panel B legend and axis title -->
<div class="abs" style="left:864px;top:47px;font-size:16px;line-height:20px;color:#4a6be8;">Wildtype</div>
<div class="abs" style="left:864px;top:67px;font-size:16px;line-height:20px;color:#c01010;">ΔES27L<span class="sub">b</span></div>
<div class="abs" style="left:792px;top:138px;transform:translate(-50%,-50%) rotate(-90deg);font-size:20px;">P/T ratio</div>

<!-- Annotation boxes -->
<div class="box" style="left:245px;width:293px;background:#e8c4c4;">
  <div class="ln" style="left:4px;top:4px;">Decreased P/T ratio - only for</div>
  <div class="ln" style="left:4px;top:29px;">mutant shows mRNAs</div>
  <div class="ln" style="left:4px;top:54px;">depleted from polysomes of</div>
  <div class="ln mut" style="left:4px;top:80px;">Δ27L<span class="sub">b</span></div>
  <div class="ln" style="left:19px;top:121px;">•</div><div class="ln" style="left:38px;top:121px;">Transmembrane proteins</div>
  <div class="ln" style="left:19px;top:146px;">•</div><div class="ln" style="left:38px;top:146px;">Ion transporters</div>
  <div class="ln" style="left:19px;top:171px;">•</div><div class="ln" style="left:38px;top:171px;">Varios synthetases and</div>
  <div class="ln" style="left:38px;top:197px;">transferases anchored to</div>
  <div class="ln" style="left:38px;top:222px;">membranes</div>
</div>
<div class="box" style="left:736px;width:292px;background:#9bb4de;">
  <div class="ln" style="left:10px;top:2px;">Increased P/T ratio - only for</div>
  <div class="ln" style="left:10px;top:29px;">mutant shows preferentially</div>
  <div class="ln" style="left:10px;top:60px;">translated mRNAs in <span class="mut">Δ27L<span class="sub">b</span></span></div>
  <div class="ln" style="left:24px;top:121px;">•</div><div class="ln" style="left:43px;top:121px;">ER-related proteins</div>
  <div class="ln" style="left:24px;top:146px;">•</div><div class="ln" style="left:43px;top:146px;">chaperones</div>
  <div class="ln" style="left:24px;top:171px;">•</div><div class="ln" style="left:43px;top:171px;">SRP components</div>
  <div class="ln" style="left:24px;top:197px;">•</div><div class="ln" style="left:43px;top:197px;">mitochondrial proteins</div>
  <div class="ln" style="left:24px;top:222px;">•</div><div class="ln" style="left:43px;top:222px;">vesicle/golgi proteins</div>
</div>
</body>
</html>
